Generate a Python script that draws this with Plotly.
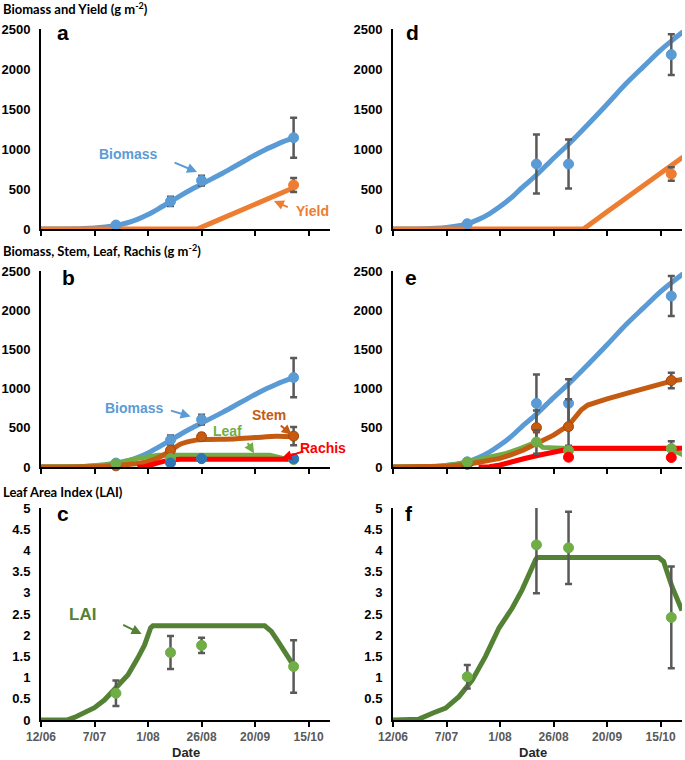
import plotly.graph_objects as go

# ---------------- data (x = days after 12 June) ----------------
tick_days = [0, 25, 50, 75, 100, 125]
tick_labels = ["12/06", "7/07", "1/08", "26/08", "20/09", "15/10"]

# left column (a, b, c) observations
obs_days_L = [35, 60.5, 75, 118]
biomass_obs_L = [50, 345, 605, 1141]
biomass_err_L = [12, 58, 62, 250]
yield_days_L = [118]
yield_obs_L = [550]
yield_err_L = [88]
stem_obs_L = [15, 214, 386, 394]
stem_err_L = [0, 0, 40, 115]
leaf_obs_L = [40, 107, 110, 95]
rachis_days_L = [60.5, 75, 118]
rachis_obs_L = [51, 107, 107]
lai_obs_L = [0.63, 1.59, 1.76, 1.26]
lai_err_L = [0.30, 0.39, 0.18, 0.62]

# left column simulations
bio_days_L = [0, 10, 20, 25, 30, 35, 40, 45, 50, 55, 60, 65, 70, 75, 80, 85, 90, 95, 100, 105, 110, 115, 118]
bio_sim_L = [0, 0, 5, 12, 25, 45, 75, 120, 180, 255, 335, 415, 490, 560, 630, 700, 775, 850, 925, 995, 1055, 1110, 1135]
yield_sim_days_L = [0, 73, 80, 90, 100, 110, 118]
yield_sim_L = [0, 0, 80, 195, 310, 425, 515]
stem_days_L = [0, 20, 30, 35, 45, 50, 55, 60, 65, 70, 75, 90, 100, 110, 118]
stem_sim_L = [0, 3, 10, 18, 45, 70, 120, 200, 290, 330, 350, 358, 375, 392, 385]
leaf_days_L = [0, 20, 30, 35, 45, 50, 55, 107, 113, 118]
leaf_sim_L = [0, 5, 30, 50, 110, 135, 150, 150, 110, 95]
rachis_sim_days_L = [45, 48, 55, 60, 65, 118]
rachis_sim_L = [0, 0, 55, 90, 100, 100]
lai_days_L = [0, 12, 15.6, 20.3, 25, 29.6, 35.1, 40.6, 45.2, 48.4, 51.2, 52.3, 104.5, 107.6, 110.8, 114, 118.3]
lai_sim_L = [0, 0, 0.06, 0.16, 0.29, 0.47, 0.75, 1.06, 1.46, 1.77, 2.17, 2.22, 2.22, 2.09, 1.85, 1.61, 1.26]

# right column (d, e, f) observations
obs_days_R = [34.7, 67, 82, 130]
biomass_obs_R = [66, 812, 812, 2180]
biomass_err_R = [10, 369, 307, 255]
yield_days_R = [130]
yield_obs_R = [687]
yield_err_R = [85]
stem_obs_R = [34, 502, 515, 1103]
stem_err_R = [0, 220, 350, 98]
leaf_obs_R = [60, 318, 210, 235]
leaf_err_R = [0, 150, 60, 93]
rachis_days_R = [82, 130]
rachis_obs_R = [125, 121]
lai_obs_R = [1.02, 4.13, 4.06, 2.42]
lai_err_R = [0.28, 1.14, 0.85, 1.20]

# right column simulations
bio_days_R = [0, 10, 20, 25, 30, 34.4, 40, 45, 50, 55, 60, 67, 75, 82, 89, 100, 109, 117, 125, 131, 135.5]
bio_sim_R = [0, 0, 10, 20, 38, 62, 120, 190, 280, 385, 510, 675, 885, 1060, 1250, 1560, 1821, 2030, 2237, 2371, 2466]
yield_sim_days_R = [0, 89, 100, 110, 120, 130, 135.5]
yield_sim_R = [0, 0, 215, 410, 605, 795, 900]
stem_days_R = [0, 15, 25, 35, 42, 50, 55, 61, 67, 75, 82, 85, 88, 91, 95, 100, 110, 120, 130, 135.5]
stem_sim_R = [0, 3, 10, 34, 65, 110, 155, 216, 300, 406, 530, 630, 730, 790, 830, 868, 945, 1025, 1095, 1117]
leaf_days_R = [0, 20, 30, 35, 45, 53, 60, 67, 70, 82, 129, 135.5]
leaf_sim_R = [0, 5, 35, 67, 125, 174, 240, 318, 250, 237, 237, 155]
rachis_sim_days_R = [40, 45, 50, 55, 61, 68, 75, 80, 84, 135.5]
rachis_sim_R = [0, 3, 25, 55, 105, 150, 194, 225, 240, 240]
lai_days_R = [0, 12.1, 18.4, 24.6, 30.8, 37, 43.2, 49.5, 55.7, 60.3, 66.6, 67.3, 124.1, 126.4, 130.3, 135]
lai_sim_R = [0, 0.02, 0.16, 0.28, 0.55, 0.94, 1.5, 2.17, 2.64, 3.07, 3.78, 3.83, 3.83, 3.74, 3.15, 2.58]

# ---------------- styling ----------------
W, H = 685, 760
C_BIO = "#5B9BD5"
C_YLD = "#ED7D31"
C_STEM = "#C55A11"
C_LEAF = "#70AD47"
C_RACH = "#FF0000"
C_RACH_PT_L = "#2E75B6"
C_LAI = "#548235"
C_ERR = "#595959"
LW = 5
MS = 10
FONT = "Liberation Sans, Arial, sans-serif"


def px_x(p):
    return p / W


def px_y(p):
    return 1 - p / H


fig = go.Figure()


def line(xs, ys, color, ax, shape="linear", width=LW):
    fig.add_trace(go.Scatter(x=xs, y=ys, mode="lines", xaxis=ax[0], yaxis=ax[1],
                             line=dict(color=color, width=width, shape=shape,
                                       smoothing=0.8 if shape == "spline" else None),
                             showlegend=False, hoverinfo="skip"))


def points(xs, ys, color, ax, err=None, outline=None, clip=False):
    fig.add_trace(go.Scatter(x=xs, y=ys, mode="markers", xaxis=ax[0], yaxis=ax[1],
                             marker=dict(color=color, size=MS,
                                         line=dict(color=outline or color, width=1)),
                             error_y=dict(type="data", array=err, visible=err is not None,
                                          color=C_ERR, thickness=2.5, width=3.5),
                             cliponaxis=clip, showlegend=False))


A = ("x", "y")
D = ("x2", "y2")
B = ("x3", "y3")
E = ("x4", "y4")
Cc = ("x5", "y5")
F = ("x6", "y6")

# panel a
line(bio_days_L, bio_sim_L, C_BIO, A, "spline")
line(yield_sim_days_L, yield_sim_L, C_YLD, A)
points(obs_days_L, biomass_obs_L, C_BIO, A, biomass_err_L)
points(yield_days_L, yield_obs_L, C_YLD, A, yield_err_L)

# panel d
line(bio_days_R, bio_sim_R, C_BIO, D, "spline")
line(yield_sim_days_R, yield_sim_R, C_YLD, D)
points(obs_days_R, biomass_obs_R, C_BIO, D, biomass_err_R)
points(yield_days_R, yield_obs_R, C_YLD, D, yield_err_R)

# panel b
line(bio_days_L, bio_sim_L, C_BIO, B, "spline")
line(leaf_days_L, leaf_sim_L, C_LEAF, B)
line(stem_days_L, stem_sim_L, C_STEM, B, "spline")
line(rachis_sim_days_L, rachis_sim_L, C_RACH, B)
points(obs_days_L, biomass_obs_L, C_BIO, B, biomass_err_L)
points(obs_days_L, stem_obs_L, C_STEM, B, stem_err_L, outline="#A3470D")
points(obs_days_L, leaf_obs_L, C_LEAF, B)
points(rachis_days_L, rachis_obs_L, C_RACH_PT_L, B)

# panel e
line(bio_days_R, bio_sim_R, C_BIO, E, "spline")
line(leaf_days_R, leaf_sim_R, C_LEAF, E)
line(stem_days_R, stem_sim_R, C_STEM, E)
line(rachis_sim_days_R, rachis_sim_R, C_RACH, E)
points(obs_days_R, biomass_obs_R, C_BIO, E, biomass_err_R)
points(obs_days_R, stem_obs_R, C_STEM, E, stem_err_R, outline="#A3470D")
points(obs_days_R, leaf_obs_R, C_LEAF, E, leaf_err_R)
points(rachis_days_R, rachis_obs_R, C_RACH, E)

# panel c
line(lai_days_L, lai_sim_L, C_LAI, Cc)
points(obs_days_L, lai_obs_L, C_LEAF, Cc, lai_err_L, clip=True)

# panel f
line(lai_days_R, lai_sim_R, C_LAI, F)
points(obs_days_R, lai_obs_R, C_LEAF, F, lai_err_R, clip=True)

# ---------------- axes ----------------
xL = [px_x(41), px_x(330)]
xR = [px_x(393), px_x(682)]
row1 = [px_y(229), px_y(29)]
row2 = [px_y(467), px_y(271)]
row3 = [px_y(720), px_y(508)]

tickfont_y = dict(family=FONT, size=13, color="black", weight="bold")
tickfont_x = dict(family=FONT, size=12, color="#595959", weight="bold")


def xaxis(dom, anchor, labels):
    return dict(domain=dom, anchor=anchor, range=[0, 135], showgrid=False, zeroline=False,
                showline=True, linecolor="black", linewidth=2, ticks="outside", ticklen=5,
                tickwidth=2, tickcolor="black", tickvals=tick_days, ticktext=tick_labels,
                showticklabels=labels, tickfont=tickfont_x, fixedrange=True, automargin=False)


def yaxis(dom, anchor, rng, dtick):
    return dict(domain=dom, anchor=anchor, range=rng, dtick=dtick, showgrid=False, zeroline=False,
                showline=True, linecolor="black", linewidth=2, ticks="outside", ticklen=6,
                tickcolor="rgba(0,0,0,0)", tickfont=tickfont_y, fixedrange=True, automargin=False)


layout = dict(
    width=W, height=H, autosize=False, margin=dict(l=0, r=0, t=0, b=0, pad=0),
    paper_bgcolor="white", plot_bgcolor="white", showlegend=False,
    xaxis=xaxis(xL, "y", False), yaxis=yaxis(row1, "x", [0, 2500], 500),
    xaxis2=xaxis(xR, "y2", False), yaxis2=yaxis(row1, "x2", [0, 2500], 500),
    xaxis3=xaxis(xL, "y3", False), yaxis3=yaxis(row2, "x3", [0, 2500], 500),
    xaxis4=xaxis(xR, "y4", False), yaxis4=yaxis(row2, "x4", [0, 2500], 500),
    xaxis5=xaxis(xL, "y5", True), yaxis5=yaxis(row3, "x5", [0, 5], 0.5),
    xaxis6=xaxis(xR, "y6", True), yaxis6=yaxis(row3, "x6", [0, 5], 0.5),
)
fig.update_layout(**layout)

ann = []
TITLE_FONT = dict(family="Lato, sans-serif", size=13, color="black", weight="bold")
for text, py in [("Biomass and Yield (g m<sup>-2</sup>)", 8),
                 ("Biomass, Stem, Leaf, Rachis (g m<sup>-2</sup>)", 251),
                 ("Leaf Area Index (LAI)", 492)]:
    ann.append(dict(text=text, xref="paper", yref="paper", x=px_x(1), y=px_y(py),
                    xanchor="left", yanchor="middle", showarrow=False, font=TITLE_FONT))

LETTER_FONT = dict(family=FONT, size=21, color="black", weight="bold")
for text, pxx, pyy in [("a", 63, 33), ("b", 68, 277), ("c", 63, 513),
                       ("d", 412, 33), ("e", 411, 277), ("f", 409, 513)]:
    ann.append(dict(text=text, xref="paper", yref="paper", x=px_x(pxx), y=px_y(pyy),
                    xanchor="center", yanchor="middle", showarrow=False, font=LETTER_FONT))

for pxx in [186, 533]:
    ann.append(dict(text="Date", xref="paper", yref="paper", x=px_x(pxx), y=px_y(752),
                    xanchor="center", yanchor="middle", showarrow=False,
                    font=dict(family=FONT, size=13, color="#262626", weight="bold")))


def label(text, ax, x, y, color, size=14):
    ann.append(dict(text=text, xref=ax[0], yref=ax[1], x=x, y=y, showarrow=False,
                    xanchor="center", yanchor="middle",
                    font=dict(family=FONT, size=size, color=color, weight="bold")))


def arrow(ax, x0, y0, x1, y1, color):
    ann.append(dict(text="", xref=ax[0], yref=ax[1], axref=ax[0], ayref=ax[1],
                    x=x1, y=y1, ax=x0, ay=y0, showarrow=True, arrowhead=2,
                    arrowsize=1, arrowwidth=2, arrowcolor=color, standoff=0))


label("Biomass", A, 41.1, 937, C_BIO)
arrow(A, 61.7, 837, 72.9, 712, C_BIO)
label("Yield", A, 127, 225, C_YLD)
arrow(A, 116, 265, 108.8, 350, C_YLD)

label("Biomass", B, 43.9, 756, C_BIO)
arrow(B, 60, 725, 69.9, 645, C_BIO)
label("Stem", B, 106.6, 667, C_STEM)
arrow(B, 111.3, 547, 117.1, 410, C_STEM)
label("Leaf", B, 87.2, 453, C_LEAF)
arrow(B, 96.1, 325, 99.5, 175, C_LEAF)
label("Rachis", B, 131.6, 239, C_RACH)
arrow(B, 123.3, 205, 112.4, 111, C_RACH)

label("LAI", Cc, 19.5, 2.48, C_LAI, size=17)
arrow(Cc, 37.7, 2.26, 47, 2.03, C_LAI)

fig.update_layout(annotations=ann)
fig.write_html("out.html", config={"displayModeBar": False},
               post_script="document.body.style.margin='0px';")
